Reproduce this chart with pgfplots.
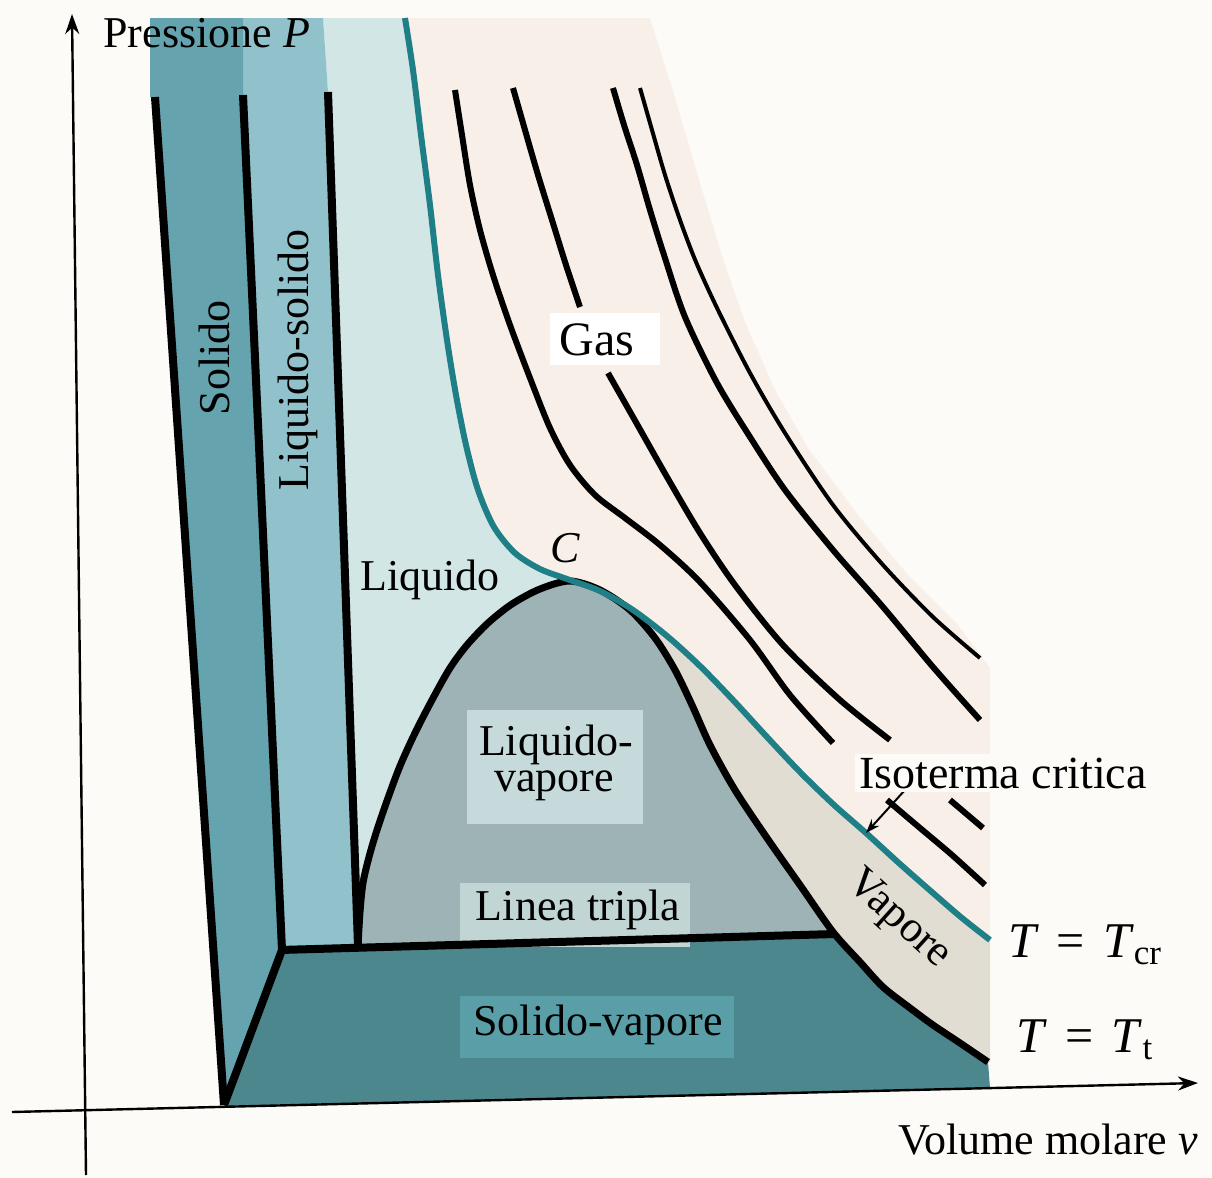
\documentclass[border=0pt]{standalone}
\usepackage{fontspec}
\setmainfont{Liberation Serif}
\usepackage{pgfplots}
\pgfplotsset{compat=1.18}
\usetikzlibrary{arrows.meta}
\definecolor{bgc}{HTML}{FCFBF7}
\definecolor{gasc}{HTML}{F8F0E8}
\definecolor{vapc}{HTML}{E2DDD3}
\definecolor{liqc}{HTML}{D2E6E5}
\definecolor{lsc}{HTML}{91C1CA}
\definecolor{solc}{HTML}{65A3AE}
\definecolor{domec}{HTML}{9DB3B6}
\definecolor{svc}{HTML}{4C878D}
\definecolor{svbox}{HTML}{5A9FA8}
\definecolor{tealc}{HTML}{1F7F87}
\definecolor{lvbox}{HTML}{C6DADB}
\definecolor{ltbox}{HTML}{C2D5D5}
\newcommand\lab{\fontsize{22}{26}\selectfont}
\begin{document}
\begin{tikzpicture}
\begin{axis}[
  scale only axis, width=606pt, height=589pt,
  xmin=0, xmax=1212, ymin=0, ymax=1178, y dir=reverse,
  hide axis, clip=false, no markers,
]
% background
\addplot[fill=bgc, draw=none] coordinates {(0,0) (1212,0) (1212,1178) (0,1178)} -- cycle;
% gas region
\addplot[fill=gasc, draw=none] coordinates {
 (405,18) (413,70) (421,135) (430,205) (438,275) (447,340) (456,395) (466,445) (478,490) (494,527) (515,553) (540,569) (567,579)
 (600,591) (633,610) (667,636) (700,666) (733,700) (767,737) (800,772) (833,804) (866,833) (900,864) (933,893) (962,918) (990,940)
 (990,668) (958,625) (908,575) (858,515) (808,448) (775,390) (745,322) (725,265) (705,200) (688,142) (672,88) (650,18)} -- cycle;
% vapour region
\addplot[fill=vapc, draw=none] coordinates {
 (567,579) (600,591) (633,610) (667,636) (700,666) (733,700) (767,737) (800,772) (833,804) (866,833) (900,864) (933,893) (962,918) (990,940)
 (990,1062) (988,1062) (960,1043) (933,1025) (910,1008) (883,987) (860,962) (833,932) (800,885) (767,838) (735,790) (710,745) (692,705) (675,670) (655,638) (630,610) (600,590) (570,581)} -- cycle;
% liquid region
\addplot[fill=liqc, draw=none] coordinates {
 (323,18) (405,18) (413,70) (421,135) (430,205) (438,275) (447,340) (456,395) (466,445) (478,490) (494,527) (515,553) (540,569) (567,579)
 (570,581) (540,589) (512,604) (488,623) (467,645) (450,668) (432,700) (415,733) (400,766) (388,798) (377,830) (369,857) (363,883) (360,912) (358,946)
 (328,92)} -- cycle;
% liquid-solid region
\addplot[fill=lsc, draw=none] coordinates {(243,18) (323,18) (328,92) (358,946) (282,950) (243,95)} -- cycle;
% solid region
\addplot[fill=solc, draw=none] coordinates {(150,18) (243,18) (243,95) (282,950) (224,1105) (155,97) (150,97)} -- cycle;
% liquid-vapour dome
\addplot[fill=domec, draw=none] coordinates {
 (358,946) (360,912) (363,883) (369,857) (377,830) (388,798) (400,766) (415,733) (432,700) (450,668) (467,645) (488,623) (512,604) (540,589) (570,581)
 (600,590) (630,610) (655,638) (675,670) (692,705) (710,745) (735,790) (767,838) (800,885) (833,932) (833,934)} -- cycle;
% solid-vapour region
\addplot[fill=svc, draw=none] coordinates {
 (282,950) (833,934) (860,962) (883,987) (910,1008) (933,1025) (960,1043) (988,1062) (990,1088) (224,1106)} -- cycle;
% label boxes
\node[fill=white, minimum width=55pt, minimum height=26pt, inner sep=0pt] at (axis cs:605,339) {};
\node[fill=lvbox, minimum width=88pt, minimum height=57pt, inner sep=0pt] at (axis cs:555,767) {};
\node[fill=ltbox, minimum width=115pt, minimum height=32pt, inner sep=0pt] at (axis cs:575,915) {};
\node[fill=svbox, minimum width=137pt, minimum height=31pt, inner sep=0pt] at (axis cs:597,1027) {};
% boundary lines
\addplot[black, line width=4pt] coordinates {(155,97) (224,1105)};
\addplot[black, line width=4pt, line join=round] coordinates {(243,95) (282,950) (224,1105)};
\addplot[black, line width=4pt] coordinates {(328,92) (358,946)};
\addplot[black, line width=4pt] coordinates {(280,950) (835,934)};
% saturation dome
\addplot[black, line width=3.5pt, smooth] coordinates {
 (358,946) (360,912) (363,883) (369,857) (377,830) (388,798) (400,766) (415,733) (432,700) (450,668) (467,645) (488,623) (512,604) (540,589) (570,581)
 (600,590) (630,610) (655,638) (675,670) (692,705) (710,745) (735,790) (767,838) (800,885) (833,932) (860,962) (883,987) (910,1008) (933,1025) (960,1043) (988,1062)};
% critical isotherm
\addplot[tealc, line width=3pt, smooth] coordinates {
 (405,18) (413,70) (421,135) (430,205) (438,275) (447,340) (456,395) (466,445) (478,490) (494,527) (515,553) (540,569) (567,579)
 (600,591) (633,610) (667,636) (700,666) (733,700) (767,737) (800,772) (833,804) (866,833) (900,864) (933,893) (962,918) (990,940)};
% isotherms
\addplot[black, line width=3pt, smooth] coordinates {
 (455,90) (462,135) (470,185) (480,230) (493,275) (510,325) (530,378) (550,428) (570,465) (595,495) (625,518) (660,545) (700,582) (750,640) (790,695) (833,743)};
\addplot[black, line width=3pt, smooth] coordinates {(887,800) (920,828) (952,855) (985,885)};
\addplot[black, line width=3pt, smooth] coordinates {(513,88) (525,130) (538,175) (552,220) (566,265) (580,307)};
\addplot[black, line width=3pt, smooth] coordinates {(608,373) (633,417) (667,477) (700,533) (735,585) (783,645) (840,700) (890,740)};
\addplot[black, line width=3pt, smooth] coordinates {(950,800) (983,828)};
\addplot[black, line width=3pt, smooth] coordinates {
 (613,88) (624,125) (637,165) (650,210) (664,255) (685,317) (717,383) (750,437) (785,490) (833,550) (883,607) (933,667) (980,720)};
\addplot[black, line width=2pt, smooth] coordinates {
 (640,88) (652,130) (665,175) (680,220) (696,262) (718,310) (750,373) (785,433) (833,505) (883,565) (933,617) (980,658)};
% pointer to critical isotherm
\addplot[black, line width=1pt, -{Stealth[length=7pt,width=5pt]}] coordinates {(905,790) (866,833)};
% axes
\addplot[black, line width=1.2pt, -{Stealth[length=10pt,width=7pt]}] coordinates {(86,1175) (72,14)};
\addplot[black, line width=1.2pt, -{Stealth[length=10pt,width=7pt]}] coordinates {(12,1112) (1198,1083)};
% labels
\node[anchor=west, inner sep=0pt] at (axis cs:103,33) {\lab Pressione \textit{P}};
\node[inner sep=0pt] at (axis cs:1048,1140) {\lab Volume molare \textit{v}};
\node[rotate=90, inner sep=0pt] at (axis cs:214,358) {\lab Solido};
\node[rotate=90, inner sep=0pt] at (axis cs:298,360) {\lab Liquido-solido};
\node[inner sep=0pt] at (axis cs:430,580) {\lab Liquido};
\node[inner sep=0pt] at (axis cs:565,548) {\lab\textit{C}};
\node[inner sep=0pt] at (axis cs:597,340) {\fontsize{24}{28}\selectfont Gas};
\node[inner sep=0pt] at (axis cs:556,745) {\lab Liquido-};
\node[inner sep=0pt] at (axis cs:554,786) {\lab vapore};
\node[inner sep=0pt] at (axis cs:578,910) {\lab Linea tripla};
\node[inner sep=0pt] at (axis cs:598,1025) {\lab Solido-vapore};
\node[fill=bgc, inner sep=2pt] at (axis cs:1003,773) {\fontsize{23}{27}\selectfont Isoterma critica};
\node[rotate=-42, inner sep=0pt] at (axis cs:898,920) {\lab Vapore};
\node[inner sep=0pt] at (axis cs:1085,945) {\fontsize{25}{29}\selectfont\textit{T}\hspace{9pt}=\hspace{9pt}\textit{T}\textsubscript{cr}};
\node[inner sep=0pt] at (axis cs:1085,1040) {\fontsize{25}{29}\selectfont\textit{T}\hspace{9pt}=\hspace{9pt}\textit{T}\textsubscript{t}\hspace{6pt}};
\end{axis}
\end{tikzpicture}
\end{document}
